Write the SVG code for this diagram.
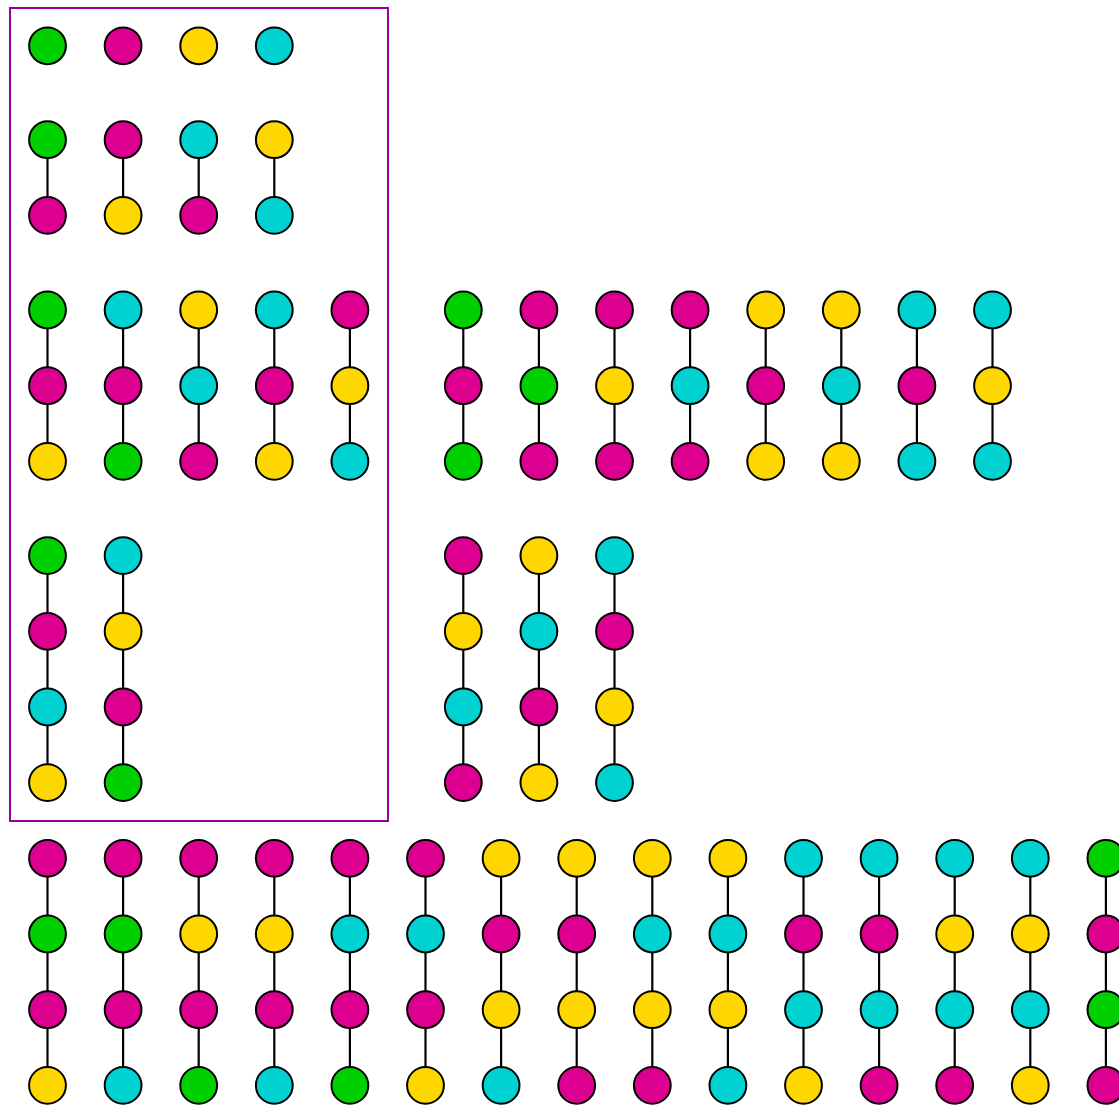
<svg xmlns="http://www.w3.org/2000/svg" width="1119" height="1106" viewBox="0 0 1119 1106">
<style>
.n{stroke:#000;stroke-width:2}
.g{fill:#00d000}.m{fill:#dd0090}.y{fill:#ffd700}.c{fill:#00d2d2}
.e{stroke:#000;stroke-width:2.2}
.box{fill:none;stroke:#990099;stroke-width:2}
</style>
<rect class="box" x="10" y="8" width="378" height="813"/>
<g id="connectors">
<!-- group 2 -->
<line class="e" x1="47.5" y1="139.7" x2="47.5" y2="215.4"/>
<line class="e" x1="123.1" y1="139.7" x2="123.1" y2="215.4"/>
<line class="e" x1="198.7" y1="139.7" x2="198.7" y2="215.4"/>
<line class="e" x1="274.3" y1="139.7" x2="274.3" y2="215.4"/>
<!-- group 3 left -->
<line class="e" x1="47.5" y1="310" x2="47.5" y2="461.4"/>
<line class="e" x1="123.1" y1="310" x2="123.1" y2="461.4"/>
<line class="e" x1="198.7" y1="310" x2="198.7" y2="461.4"/>
<line class="e" x1="274.3" y1="310" x2="274.3" y2="461.4"/>
<line class="e" x1="349.9" y1="310" x2="349.9" y2="461.4"/>
<!-- group 3 middle -->
<line class="e" x1="463.3" y1="310" x2="463.3" y2="461.4"/>
<line class="e" x1="538.9" y1="310" x2="538.9" y2="461.4"/>
<line class="e" x1="614.5" y1="310" x2="614.5" y2="461.4"/>
<line class="e" x1="690.1" y1="310" x2="690.1" y2="461.4"/>
<line class="e" x1="765.7" y1="310" x2="765.7" y2="461.4"/>
<line class="e" x1="841.3" y1="310" x2="841.3" y2="461.4"/>
<line class="e" x1="916.9" y1="310" x2="916.9" y2="461.4"/>
<line class="e" x1="992.5" y1="310" x2="992.5" y2="461.4"/>
<!-- group 4 -->
<line class="e" x1="47.5" y1="555.6" x2="47.5" y2="782.6"/>
<line class="e" x1="123.1" y1="555.6" x2="123.1" y2="782.6"/>
<line class="e" x1="463.3" y1="555.6" x2="463.3" y2="782.6"/>
<line class="e" x1="538.9" y1="555.6" x2="538.9" y2="782.6"/>
<line class="e" x1="614.5" y1="555.6" x2="614.5" y2="782.6"/>
<!-- bottom -->
<line class="e" x1="47.5" y1="858.3" x2="47.5" y2="1085.4"/>
<line class="e" x1="123.1" y1="858.3" x2="123.1" y2="1085.4"/>
<line class="e" x1="198.7" y1="858.3" x2="198.7" y2="1085.4"/>
<line class="e" x1="274.3" y1="858.3" x2="274.3" y2="1085.4"/>
<line class="e" x1="349.9" y1="858.3" x2="349.9" y2="1085.4"/>
<line class="e" x1="425.5" y1="858.3" x2="425.5" y2="1085.4"/>
<line class="e" x1="501.1" y1="858.3" x2="501.1" y2="1085.4"/>
<line class="e" x1="576.7" y1="858.3" x2="576.7" y2="1085.4"/>
<line class="e" x1="652.3" y1="858.3" x2="652.3" y2="1085.4"/>
<line class="e" x1="727.9" y1="858.3" x2="727.9" y2="1085.4"/>
<line class="e" x1="803.5" y1="858.3" x2="803.5" y2="1085.4"/>
<line class="e" x1="879.1" y1="858.3" x2="879.1" y2="1085.4"/>
<line class="e" x1="954.7" y1="858.3" x2="954.7" y2="1085.4"/>
<line class="e" x1="1030.3" y1="858.3" x2="1030.3" y2="1085.4"/>
<line class="e" x1="1105.9" y1="858.3" x2="1105.9" y2="1085.4"/>
</g>
<!-- group 1 -->
<g id="n1_0"><circle class="n g" cx="47.5" cy="45.8" r="18.4"/></g>
<g id="n1_1"><circle class="n m" cx="123.1" cy="45.8" r="18.4"/></g>
<g id="n1_2"><circle class="n y" cx="198.7" cy="45.8" r="18.4"/></g>
<g id="n1_3"><circle class="n c" cx="274.3" cy="45.8" r="18.4"/></g>
<!-- group 2 -->
<g id="n2_0a"><circle class="n g" cx="47.5" cy="139.7" r="18.4"/></g>
<g id="n2_0b"><circle class="n m" cx="47.5" cy="215.4" r="18.4"/></g>
<g id="n2_1a"><circle class="n m" cx="123.1" cy="139.7" r="18.4"/></g>
<g id="n2_1b"><circle class="n y" cx="123.1" cy="215.4" r="18.4"/></g>
<g id="n2_2a"><circle class="n c" cx="198.7" cy="139.7" r="18.4"/></g>
<g id="n2_2b"><circle class="n m" cx="198.7" cy="215.4" r="18.4"/></g>
<g id="n2_3a"><circle class="n y" cx="274.3" cy="139.7" r="18.4"/></g>
<g id="n2_3b"><circle class="n c" cx="274.3" cy="215.4" r="18.4"/></g>
<!-- group 3 left -->
<g id="n3_0a"><circle class="n g" cx="47.5" cy="310" r="18.4"/></g>
<g id="n3_0b"><circle class="n m" cx="47.5" cy="385.7" r="18.4"/></g>
<g id="n3_0c"><circle class="n y" cx="47.5" cy="461.4" r="18.4"/></g>
<g id="n3_1a"><circle class="n c" cx="123.1" cy="310" r="18.4"/></g>
<g id="n3_1b"><circle class="n m" cx="123.1" cy="385.7" r="18.4"/></g>
<g id="n3_1c"><circle class="n g" cx="123.1" cy="461.4" r="18.4"/></g>
<g id="n3_2a"><circle class="n y" cx="198.7" cy="310" r="18.4"/></g>
<g id="n3_2b"><circle class="n c" cx="198.7" cy="385.7" r="18.4"/></g>
<g id="n3_2c"><circle class="n m" cx="198.7" cy="461.4" r="18.4"/></g>
<g id="n3_3a"><circle class="n c" cx="274.3" cy="310" r="18.4"/></g>
<g id="n3_3b"><circle class="n m" cx="274.3" cy="385.7" r="18.4"/></g>
<g id="n3_3c"><circle class="n y" cx="274.3" cy="461.4" r="18.4"/></g>
<g id="n3_4a"><circle class="n m" cx="349.9" cy="310" r="18.4"/></g>
<g id="n3_4b"><circle class="n y" cx="349.9" cy="385.7" r="18.4"/></g>
<g id="n3_4c"><circle class="n c" cx="349.9" cy="461.4" r="18.4"/></g>
<!-- group 3 middle -->
<g id="m3_0a"><circle class="n g" cx="463.3" cy="310" r="18.4"/></g>
<g id="m3_0b"><circle class="n m" cx="463.3" cy="385.7" r="18.4"/></g>
<g id="m3_0c"><circle class="n g" cx="463.3" cy="461.4" r="18.4"/></g>
<g id="m3_1a"><circle class="n m" cx="538.9" cy="310" r="18.4"/></g>
<g id="m3_1b"><circle class="n g" cx="538.9" cy="385.7" r="18.4"/></g>
<g id="m3_1c"><circle class="n m" cx="538.9" cy="461.4" r="18.4"/></g>
<g id="m3_2a"><circle class="n m" cx="614.5" cy="310" r="18.4"/></g>
<g id="m3_2b"><circle class="n y" cx="614.5" cy="385.7" r="18.4"/></g>
<g id="m3_2c"><circle class="n m" cx="614.5" cy="461.4" r="18.4"/></g>
<g id="m3_3a"><circle class="n m" cx="690.1" cy="310" r="18.4"/></g>
<g id="m3_3b"><circle class="n c" cx="690.1" cy="385.7" r="18.4"/></g>
<g id="m3_3c"><circle class="n m" cx="690.1" cy="461.4" r="18.4"/></g>
<g id="m3_4a"><circle class="n y" cx="765.7" cy="310" r="18.4"/></g>
<g id="m3_4b"><circle class="n m" cx="765.7" cy="385.7" r="18.4"/></g>
<g id="m3_4c"><circle class="n y" cx="765.7" cy="461.4" r="18.4"/></g>
<g id="m3_5a"><circle class="n y" cx="841.3" cy="310" r="18.4"/></g>
<g id="m3_5b"><circle class="n c" cx="841.3" cy="385.7" r="18.4"/></g>
<g id="m3_5c"><circle class="n y" cx="841.3" cy="461.4" r="18.4"/></g>
<g id="m3_6a"><circle class="n c" cx="916.9" cy="310" r="18.4"/></g>
<g id="m3_6b"><circle class="n m" cx="916.9" cy="385.7" r="18.4"/></g>
<g id="m3_6c"><circle class="n c" cx="916.9" cy="461.4" r="18.4"/></g>
<g id="m3_7a"><circle class="n c" cx="992.5" cy="310" r="18.4"/></g>
<g id="m3_7b"><circle class="n y" cx="992.5" cy="385.7" r="18.4"/></g>
<g id="m3_7c"><circle class="n c" cx="992.5" cy="461.4" r="18.4"/></g>
<!-- group 4 left -->
<g id="n4_0a"><circle class="n g" cx="47.5" cy="555.6" r="18.4"/></g>
<g id="n4_0b"><circle class="n m" cx="47.5" cy="631.3" r="18.4"/></g>
<g id="n4_0c"><circle class="n c" cx="47.5" cy="707" r="18.4"/></g>
<g id="n4_0d"><circle class="n y" cx="47.5" cy="782.6" r="18.4"/></g>
<g id="n4_1a"><circle class="n c" cx="123.1" cy="555.6" r="18.4"/></g>
<g id="n4_1b"><circle class="n y" cx="123.1" cy="631.3" r="18.4"/></g>
<g id="n4_1c"><circle class="n m" cx="123.1" cy="707" r="18.4"/></g>
<g id="n4_1d"><circle class="n g" cx="123.1" cy="782.6" r="18.4"/></g>
<!-- group 4 middle -->
<g id="m4_0a"><circle class="n m" cx="463.3" cy="555.6" r="18.4"/></g>
<g id="m4_0b"><circle class="n y" cx="463.3" cy="631.3" r="18.4"/></g>
<g id="m4_0c"><circle class="n c" cx="463.3" cy="707" r="18.4"/></g>
<g id="m4_0d"><circle class="n m" cx="463.3" cy="782.6" r="18.4"/></g>
<g id="m4_1a"><circle class="n y" cx="538.9" cy="555.6" r="18.4"/></g>
<g id="m4_1b"><circle class="n c" cx="538.9" cy="631.3" r="18.4"/></g>
<g id="m4_1c"><circle class="n m" cx="538.9" cy="707" r="18.4"/></g>
<g id="m4_1d"><circle class="n y" cx="538.9" cy="782.6" r="18.4"/></g>
<g id="m4_2a"><circle class="n c" cx="614.5" cy="555.6" r="18.4"/></g>
<g id="m4_2b"><circle class="n m" cx="614.5" cy="631.3" r="18.4"/></g>
<g id="m4_2c"><circle class="n y" cx="614.5" cy="707" r="18.4"/></g>
<g id="m4_2d"><circle class="n c" cx="614.5" cy="782.6" r="18.4"/></g>
<!-- bottom -->
<g id="b0a"><circle class="n m" cx="47.5" cy="858.3" r="18.4"/></g>
<g id="b0b"><circle class="n g" cx="47.5" cy="934" r="18.4"/></g>
<g id="b0c"><circle class="n m" cx="47.5" cy="1009.7" r="18.4"/></g>
<g id="b0d"><circle class="n y" cx="47.5" cy="1085.4" r="18.4"/></g>
<g id="b1a"><circle class="n m" cx="123.1" cy="858.3" r="18.4"/></g>
<g id="b1b"><circle class="n g" cx="123.1" cy="934" r="18.4"/></g>
<g id="b1c"><circle class="n m" cx="123.1" cy="1009.7" r="18.4"/></g>
<g id="b1d"><circle class="n c" cx="123.1" cy="1085.4" r="18.4"/></g>
<g id="b2a"><circle class="n m" cx="198.7" cy="858.3" r="18.4"/></g>
<g id="b2b"><circle class="n y" cx="198.7" cy="934" r="18.4"/></g>
<g id="b2c"><circle class="n m" cx="198.7" cy="1009.7" r="18.4"/></g>
<g id="b2d"><circle class="n g" cx="198.7" cy="1085.4" r="18.4"/></g>
<g id="b3a"><circle class="n m" cx="274.3" cy="858.3" r="18.4"/></g>
<g id="b3b"><circle class="n y" cx="274.3" cy="934" r="18.4"/></g>
<g id="b3c"><circle class="n m" cx="274.3" cy="1009.7" r="18.4"/></g>
<g id="b3d"><circle class="n c" cx="274.3" cy="1085.4" r="18.4"/></g>
<g id="b4a"><circle class="n m" cx="349.9" cy="858.3" r="18.4"/></g>
<g id="b4b"><circle class="n c" cx="349.9" cy="934" r="18.4"/></g>
<g id="b4c"><circle class="n m" cx="349.9" cy="1009.7" r="18.4"/></g>
<g id="b4d"><circle class="n g" cx="349.9" cy="1085.4" r="18.4"/></g>
<g id="b5a"><circle class="n m" cx="425.5" cy="858.3" r="18.4"/></g>
<g id="b5b"><circle class="n c" cx="425.5" cy="934" r="18.4"/></g>
<g id="b5c"><circle class="n m" cx="425.5" cy="1009.7" r="18.4"/></g>
<g id="b5d"><circle class="n y" cx="425.5" cy="1085.4" r="18.4"/></g>
<g id="b6a"><circle class="n y" cx="501.1" cy="858.3" r="18.4"/></g>
<g id="b6b"><circle class="n m" cx="501.1" cy="934" r="18.4"/></g>
<g id="b6c"><circle class="n y" cx="501.1" cy="1009.7" r="18.4"/></g>
<g id="b6d"><circle class="n c" cx="501.1" cy="1085.4" r="18.4"/></g>
<g id="b7a"><circle class="n y" cx="576.7" cy="858.3" r="18.4"/></g>
<g id="b7b"><circle class="n m" cx="576.7" cy="934" r="18.4"/></g>
<g id="b7c"><circle class="n y" cx="576.7" cy="1009.7" r="18.4"/></g>
<g id="b7d"><circle class="n m" cx="576.7" cy="1085.4" r="18.4"/></g>
<g id="b8a"><circle class="n y" cx="652.3" cy="858.3" r="18.4"/></g>
<g id="b8b"><circle class="n c" cx="652.3" cy="934" r="18.4"/></g>
<g id="b8c"><circle class="n y" cx="652.3" cy="1009.7" r="18.4"/></g>
<g id="b8d"><circle class="n m" cx="652.3" cy="1085.4" r="18.4"/></g>
<g id="b9a"><circle class="n y" cx="727.9" cy="858.3" r="18.4"/></g>
<g id="b9b"><circle class="n c" cx="727.9" cy="934" r="18.4"/></g>
<g id="b9c"><circle class="n y" cx="727.9" cy="1009.7" r="18.4"/></g>
<g id="b9d"><circle class="n c" cx="727.9" cy="1085.4" r="18.4"/></g>
<g id="b10a"><circle class="n c" cx="803.5" cy="858.3" r="18.4"/></g>
<g id="b10b"><circle class="n m" cx="803.5" cy="934" r="18.4"/></g>
<g id="b10c"><circle class="n c" cx="803.5" cy="1009.7" r="18.4"/></g>
<g id="b10d"><circle class="n y" cx="803.5" cy="1085.4" r="18.4"/></g>
<g id="b11a"><circle class="n c" cx="879.1" cy="858.3" r="18.4"/></g>
<g id="b11b"><circle class="n m" cx="879.1" cy="934" r="18.4"/></g>
<g id="b11c"><circle class="n c" cx="879.1" cy="1009.7" r="18.4"/></g>
<g id="b11d"><circle class="n m" cx="879.1" cy="1085.4" r="18.4"/></g>
<g id="b12a"><circle class="n c" cx="954.7" cy="858.3" r="18.4"/></g>
<g id="b12b"><circle class="n y" cx="954.7" cy="934" r="18.4"/></g>
<g id="b12c"><circle class="n c" cx="954.7" cy="1009.7" r="18.4"/></g>
<g id="b12d"><circle class="n m" cx="954.7" cy="1085.4" r="18.4"/></g>
<g id="b13a"><circle class="n c" cx="1030.3" cy="858.3" r="18.4"/></g>
<g id="b13b"><circle class="n y" cx="1030.3" cy="934" r="18.4"/></g>
<g id="b13c"><circle class="n c" cx="1030.3" cy="1009.7" r="18.4"/></g>
<g id="b13d"><circle class="n y" cx="1030.3" cy="1085.4" r="18.4"/></g>
<g id="b14a"><circle class="n g" cx="1105.9" cy="858.3" r="18.4"/></g>
<g id="b14b"><circle class="n m" cx="1105.9" cy="934" r="18.4"/></g>
<g id="b14c"><circle class="n g" cx="1105.9" cy="1009.7" r="18.4"/></g>
<g id="b14d"><circle class="n m" cx="1105.9" cy="1085.4" r="18.4"/></g>
</svg>
